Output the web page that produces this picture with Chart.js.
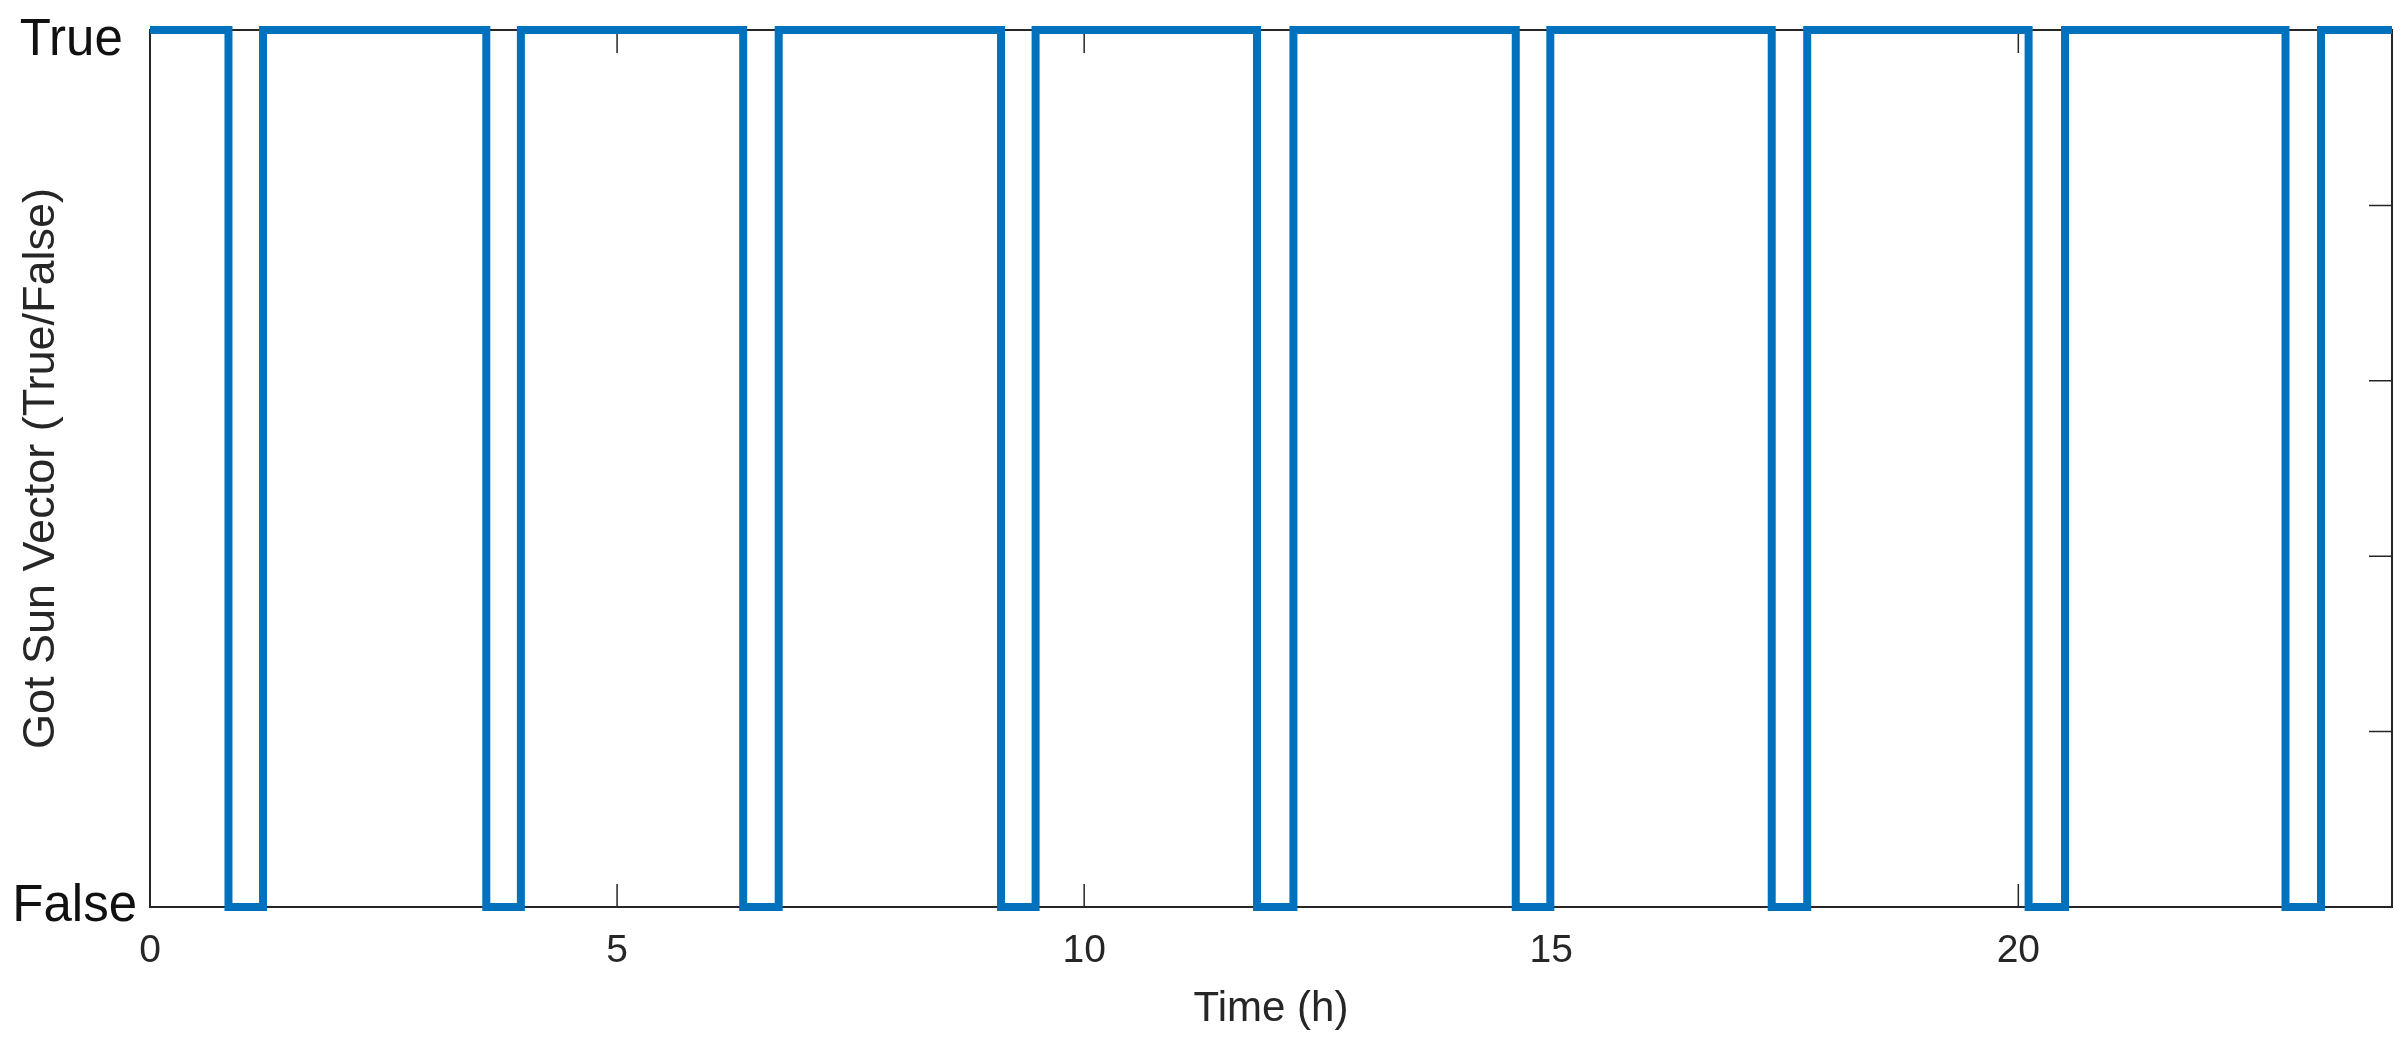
<!DOCTYPE html>
<html>
<head>
<meta charset="utf-8">
<script src="https://cdn.jsdelivr.net/npm/chart.js@4/dist/chart.umd.min.js"></script>
<style>
  html, body { margin: 0; padding: 0; background: #fff; }
  #sunChart { display: block; }
</style>
</head>
<body>
<canvas id="sunChart" width="2402" height="1045"></canvas>
<script>
// switching times (hours) and the sun-vector flag after each switch
const timeHours = [0, 0.84, 1.21, 3.60, 3.97, 6.35, 6.73, 9.11, 9.48, 11.85, 12.24,
                   14.62, 14.99, 17.36, 17.74, 20.11, 20.50, 22.86, 23.24, 24];
const sunState  = [1, 0, 1, 0, 1, 0, 1, 0, 1, 0, 1,
                   0, 1, 0, 1, 0, 1, 0, 1, 1];

const xTickValues = [0, 5, 10, 15, 20];
const yTickValues = [0, 1];
const yTickLabels = ["False", "True "]; // padded like a MATLAB char array
const rightTickValues = [0.2, 0.4, 0.6, 0.8];

const axisColor = "#262626";
const fontFamily = "'Liberation Sans', Arial, Helvetica, sans-serif";

// MATLAB-style box with ticks pointing inward
const boxPlugin = {
  id: "matlabBox",
  beforeDatasetsDraw(chart) {
    const { ctx, chartArea: a, scales } = chart;
    const len = 23;
    ctx.save();
    ctx.strokeStyle = axisColor;
    ctx.lineWidth = 2;
    ctx.strokeRect(a.left, a.top, a.right - a.left, a.bottom - a.top);
    ctx.lineWidth = 1.5;
    ctx.beginPath();
    xTickValues.forEach(v => {
      const x = scales.x.getPixelForValue(v);
      ctx.moveTo(x, a.bottom); ctx.lineTo(x, a.bottom - len);
      ctx.moveTo(x, a.top); ctx.lineTo(x, a.top + len);
    });
    rightTickValues.forEach(v => {
      const y = scales.y.getPixelForValue(v);
      ctx.moveTo(a.right, y); ctx.lineTo(a.right - len, y);
    });
    ctx.stroke();
    ctx.restore();
  }
};

const ctx = document.getElementById("sunChart").getContext("2d");

new Chart(ctx, {
  type: "line",
  data: {
    datasets: [{
      label: "Got Sun Vector",
      data: timeHours.map((t, i) => ({ x: t, y: sunState[i] })),
      borderColor: "#0072BD",
      borderWidth: 8,
      stepped: "before",
      pointRadius: 0,
      fill: false,
      clip: false,
      borderJoinStyle: "miter",
      borderCapStyle: "butt"
    }]
  },
  options: {
    responsive: false,
    animation: false,
    devicePixelRatio: 1,
    layout: { padding: { top: 30, right: 10, bottom: 0, left: 0 } },
    plugins: {
      legend: { display: false },
      tooltip: { enabled: false }
    },
    scales: {
      x: {
        type: "linear",
        min: 0,
        max: 24,
        grid: { display: false },
        border: { display: false },
        afterBuildTicks: scale => { scale.ticks = xTickValues.map(v => ({ value: v })); },
        afterFit: scale => { scale.height = 138; },
        ticks: {
          padding: 13,
          color: axisColor,
          font: { family: fontFamily, size: 39 },
          maxRotation: 0
        },
        title: {
          display: true,
          text: "Time (h)",
          color: axisColor,
          font: { family: fontFamily, size: 42 },
          padding: { top: 0, bottom: 10 }
        }
      },
      y: {
        type: "linear",
        min: 0,
        max: 1,
        grid: { display: false },
        border: { display: false },
        afterBuildTicks: scale => { scale.ticks = yTickValues.map(v => ({ value: v })); },
        afterFit: scale => { scale.width = 150; },
        ticks: {
          padding: 5,
          color: "#111",
          // the top label sits a little below its tick, as in the original
          font: c => ({
            family: fontFamily,
            size: 51,
            lineHeight: c.tick && c.tick.value === 1 ? "22px" : 1
          }),
          callback: value => {
            const label = yTickLabels[yTickValues.indexOf(value)];
            return value === 1 ? ["", label] : label;
          }
        },
        title: {
          display: true,
          text: "Got Sun Vector (True/False)",
          color: axisColor,
          font: { family: fontFamily, size: 45 },
          padding: { top: 15, bottom: 0 }
        }
      }
    }
  },
  plugins: [boxPlugin]
});
</script>
</body>
</html>
